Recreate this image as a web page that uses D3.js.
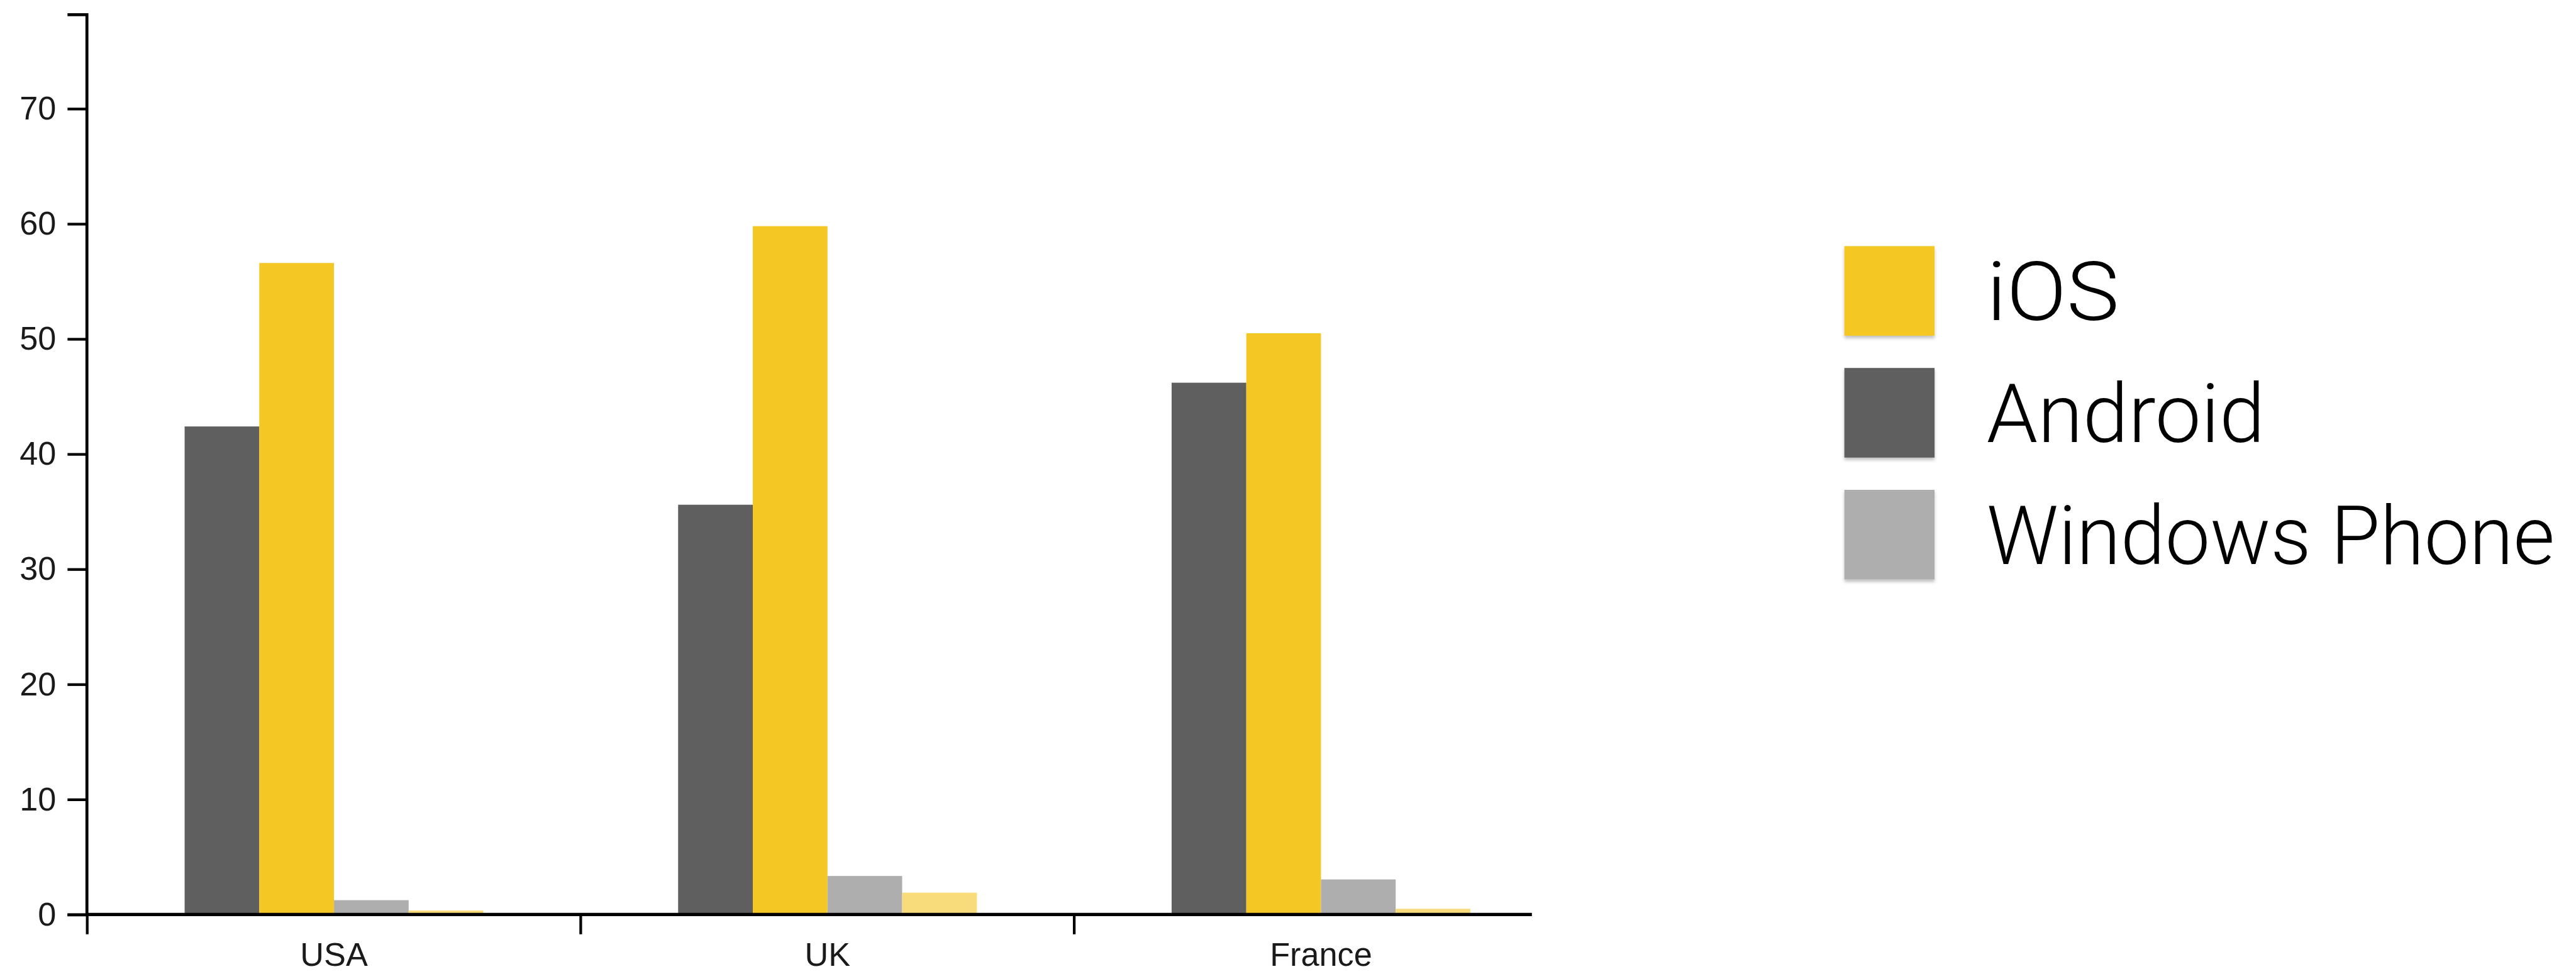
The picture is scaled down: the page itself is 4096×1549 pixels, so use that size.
<!DOCTYPE html>
<html>
<head>
<meta charset="utf-8">
<script src="https://cdn.jsdelivr.net/npm/d3@7"></script>
<style>
  html, body { margin: 0; padding: 0; background: #ffffff; }
  svg { display: block; }
</style>
</head>
<body>
<svg id="chart" width="4096" height="1549"></svg>
<script>
// ---- data ----
const categories = ["USA", "UK", "France"];
const seriesNames = ["Android", "iOS", "Windows Phone", "Other"];
const android = [42.4, 35.6, 46.2];
const ios = [56.6, 59.8, 50.5];
const windowsPhone = [1.25, 3.35, 3.05];
const other = [0.35, 1.9, 0.5];
const yTicks = [0, 10, 20, 30, 40, 50, 60, 70];
const legendLabels = ["iOS", "Android", "Windows Phone"];
const seriesColors = ["#5f5f5f", "#f5c724", "#aeaeae", "#f8dc7b"];
const legendColors = ["#f5c724", "#5f5f5f", "#aeaeae"];

const seriesValues = [android, ios, windowsPhone, other];
const rows = categories.map((c, i) => ({
  category: c,
  values: seriesNames.map((s, k) => ({ series: s, value: seriesValues[k][i] }))
}));

// ---- layout (reference pixel space, scaled by 0.95) ----
const S = 0.95;
const svg = d3.select("#chart");
const root = svg.append("g").attr("transform", `scale(${S})`);

const axisX = 145, axisY0 = 1531, axisTop = 24, axisRight = 2564;
const step = 826;
const x0 = d3.scaleBand().domain(categories).range([146, 146 + step * categories.length]).paddingInner(0).paddingOuter(0);
const x1 = d3.scaleBand().domain(seriesNames).range([0, x0.bandwidth()]).paddingInner(0).paddingOuter(1.304);
const y = d3.scaleLinear().domain([0, 78.2]).range([axisY0, axisTop]);
const color = d3.scaleOrdinal().domain(seriesNames).range(seriesColors);

// bars
const groups = root.append("g").selectAll("g").data(rows).join("g")
  .attr("transform", d => `translate(${x0(d.category)},0)`);
groups.selectAll("rect").data(d => d.values).join("rect")
  .attr("x", d => x1(d.series))
  .attr("width", x1.bandwidth())
  .attr("y", d => y(d.value))
  .attr("height", d => y(0) - y(d.value))
  .attr("fill", d => color(d.series));

// y axis
const yAxis = root.append("g").attr("transform", `translate(${axisX},0)`)
  .call(d3.axisLeft(y).tickValues(yTicks).tickSize(32).tickSizeOuter(32).tickPadding(19));
yAxis.select(".domain").attr("stroke", "#000").attr("stroke-width", 5);
yAxis.selectAll(".tick line").attr("stroke", "#000").attr("stroke-width", 4.5);
yAxis.selectAll(".tick text")
  .attr("fill", "#1a1a1a")
  .style("font-family", "'Liberation Sans', Arial, Helvetica, sans-serif")
  .style("font-size", "55px");

// x axis (domain line + boundary ticks + centered labels)
const xAxis = root.append("g");
xAxis.append("line")
  .attr("x1", axisX).attr("x2", axisRight)
  .attr("y1", y(0)).attr("y2", y(0))
  .attr("stroke", "#000").attr("stroke-width", 5.5);
xAxis.selectAll("line.xtick").data(categories).join("line")
  .attr("class", "xtick")
  .attr("x1", d => Math.max(axisX, x0(d))).attr("x2", d => Math.max(axisX, x0(d)))
  .attr("y1", y(0)).attr("y2", y(0) + 33)
  .attr("stroke", "#000").attr("stroke-width", 4.5);
xAxis.selectAll("text").data(categories).join("text")
  .attr("x", d => x0(d) + x0.bandwidth() / 2)
  .attr("y", y(0) + 86)
  .attr("text-anchor", "middle")
  .attr("fill", "#1a1a1a")
  .style("font-family", "'Liberation Sans', Arial, Helvetica, sans-serif")
  .style("font-size", "55px")
  .text(d => d);

// legend
const defs = svg.append("defs");
const f = defs.append("filter").attr("id", "shadow").attr("x", "-20%").attr("y", "-20%").attr("width", "140%").attr("height", "150%");
f.append("feDropShadow").attr("dx", 0).attr("dy", 4).attr("stdDeviation", 3).attr("flood-color", "#000").attr("flood-opacity", 0.25);

const legendTextLen = [222, 466, 951];
const legend = root.append("g").attr("transform", "translate(3087,412)");
const items = legend.selectAll("g").data(legendLabels).join("g")
  .attr("transform", (d, i) => `translate(0,${i * 204})`);
items.append("rect")
  .attr("width", 151).attr("height", 150)
  .attr("fill", (d, i) => legendColors[i])
  .attr("filter", "url(#shadow)");
items.append("text")
  .attr("x", 238)
  .attr("y", 124)
  .attr("fill", "#000")
  .attr("textLength", (d, i) => legendTextLen[i])
  .attr("lengthAdjust", "spacingAndGlyphs")
  .style("font-family", "Roboto, 'Open Sans', sans-serif")
  .style("font-weight", 300)
  .style("font-size", "137px")
  .text(d => d);
</script>
</body>
</html>
